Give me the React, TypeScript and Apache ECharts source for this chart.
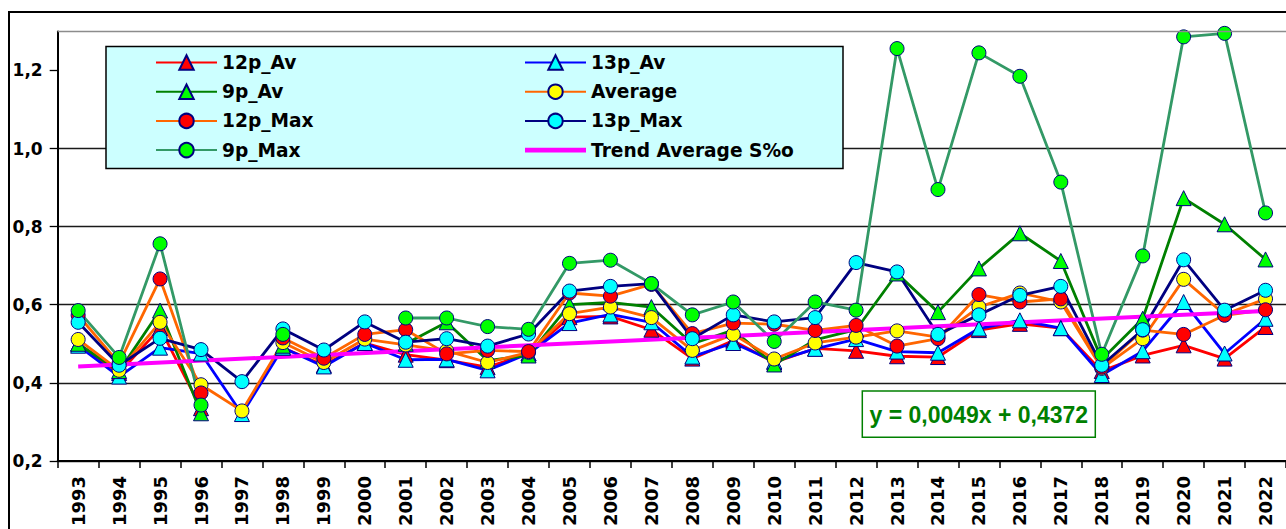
import React, { useEffect, useRef } from "react";
import * as echarts from "echarts";

const years = [
  "1993","1994","1995","1996","1997","1998","1999","2000","2001","2002",
  "2003","2004","2005","2006","2007","2008","2009","2010","2011","2012",
  "2013","2014","2015","2016","2017","2018","2019","2020","2021","2022",
];

const p12Av = [0.5, 0.425, 0.54, 0.335, null, 0.49, 0.445, 0.502, 0.472, 0.458, 0.44, 0.475, 0.568, 0.57, 0.536, 0.462, 0.508, 0.452, 0.488, 0.482, 0.468, 0.466, 0.535, 0.551, 0.54, 0.43, 0.47, 0.496, 0.462, 0.543];
const p13Av = [0.495, 0.416, 0.49, 0.475, 0.32, 0.49, 0.442, 0.502, 0.459, 0.46, 0.432, 0.475, 0.553, 0.575, 0.555, 0.467, 0.502, 0.455, 0.487, 0.512, 0.48, 0.477, 0.539, 0.56, 0.54, 0.42, 0.481, 0.607, 0.475, 0.564];
const p9Av = [0.5, 0.43, 0.585, 0.322, null, 0.495, null, null, 0.5, 0.555, 0.457, 0.47, 0.6, 0.606, 0.594, 0.5, 0.535, 0.447, 0.51, 0.536, 0.68, 0.581, 0.693, 0.783, 0.712, 0.46, 0.564, 0.873, 0.806, 0.716];
const average = [0.511, 0.432, 0.555, 0.395, 0.328, 0.503, 0.452, 0.512, 0.497, 0.482, 0.452, 0.478, 0.577, 0.594, 0.567, 0.483, 0.524, 0.461, 0.502, 0.517, 0.533, 0.517, 0.594, 0.63, 0.607, 0.437, 0.513, 0.665, 0.575, 0.615];
const p12Max = [0.573, 0.45, 0.666, 0.374, null, 0.515, 0.463, 0.524, 0.536, 0.474, 0.483, 0.48, 0.63, 0.622, 0.652, 0.526, 0.553, 0.55, 0.534, 0.547, 0.494, 0.513, 0.626, 0.607, 0.615, 0.44, 0.535, 0.524, 0.573, 0.587];
const p13Max = [0.555, 0.445, 0.514, 0.485, 0.403, 0.538, 0.484, 0.556, 0.504, 0.513, 0.494, 0.525, 0.635, 0.647, 0.654, 0.513, 0.574, 0.556, 0.567, 0.708, 0.684, 0.524, 0.574, 0.624, 0.647, 0.445, 0.536, 0.715, 0.586, 0.637];
const p9Max = [0.585, 0.465, 0.756, 0.343, null, 0.524, null, null, 0.566, 0.566, 0.544, 0.537, 0.706, 0.714, 0.654, 0.574, 0.607, 0.506, 0.607, 0.586, 1.256, 0.895, 1.245, 1.185, 0.914, 0.473, 0.725, 1.286, 1.295, 0.835];
const trendEnds = [0.442, 0.584];
const yTicks = [0.2, 0.4, 0.6, 0.8, 1.0, 1.2];
const equationText = "y = 0,0049x + 0,4372";

const NAVY = "#000080";

function lineSeries(name: string, data: (number | null)[], lineColor: string, fill: string, symbol: string, size: number) {
  return {
    name,
    type: "line",
    data,
    symbol,
    symbolSize: size,
    showSymbol: true,
    connectNulls: false,
    lineStyle: { color: lineColor, width: 2.8 },
    itemStyle: { color: fill, borderColor: NAVY, borderWidth: 1 },
    emphasis: { disabled: true },
  };
}

export default function App() {
  const ref = useRef<HTMLDivElement>(null);
  useEffect(() => {
    if (!ref.current) return;
    const chart = echarts.init(ref.current, null, { renderer: "svg" });
    const legendText = { fontFamily: "'DejaVu Sans', sans-serif", fontWeight: "bold", fontSize: 18.6, color: "#000", lineHeight: 19 };
    const option: any = {
      animation: false,
      backgroundColor: "#ffffff",
      grid: { left: 57.7, top: 31.4, width: 1232.1, height: 432.9, containLabel: false },
      xAxis: {
        type: "category",
        data: years,
        boundaryGap: true,
        axisLine: { show: true, lineStyle: { color: "#000", width: 2 } },
        axisTick: { show: true, length: 7, lineStyle: { color: "#000", width: 1.5 } },
        axisLabel: {
          interval: 0, rotate: 90, margin: 15, color: "#000",
          fontFamily: "'DejaVu Sans', sans-serif", fontWeight: "bold", fontSize: 18,
        },
        splitLine: { show: false },
      },
      yAxis: {
        type: "value",
        min: 0.2,
        max: 1.3,
        interval: 0.2,
        axisLine: { show: true, lineStyle: { color: "#000", width: 2 } },
        axisTick: { show: true, length: 8, customValues: yTicks, lineStyle: { color: "#000", width: 1.3 } },
        axisLabel: {
          customValues: yTicks,
          margin: 15, color: "#000",
          fontFamily: "'DejaVu Sans', sans-serif", fontWeight: "bold", fontSize: 17,
          formatter: (v: number) => {
            if (Math.abs(v * 5 - Math.round(v * 5)) > 1e-6) return "";
            return v.toFixed(1).replace(".", ",");
          },
        },
        splitLine: { show: true, showMaxLine: false, lineStyle: { color: "#1a1a1a", width: 1.3 } },
      },
      legend: [
        {
          orient: "vertical", left: 150, top: 48, itemWidth: 61, itemHeight: 18, itemGap: 10.2,
          textStyle: legendText, selectedMode: false,
          data: ["12p_Av", "9p_Av", "12p_Max", "9p_Max"],
        },
        {
          orient: "vertical", left: 519, top: 48, itemWidth: 61, itemHeight: 18, itemGap: 10.2,
          textStyle: legendText, selectedMode: false,
          data: ["13p_Av", "Average", "13p_Max", { name: "Trend Average S%o", icon: "path://M0,0 L60,0 L60,4.5 L0,4.5 Z" }],
        },
      ],
      graphic: [
        { type: "rect", z: 0, silent: true, shape: { x: 9, y: 12, width: 1400, height: 700 }, style: { fill: "none", stroke: "#000", lineWidth: 2 } },
        { type: "line", z: 5, silent: true, shape: { x1: 57.7, y1: 31.4, x2: 1300, y2: 31.4 }, style: { stroke: "#8c8c8c", lineWidth: 1.5 } },
        { type: "rect", z: 3, silent: true, shape: { x: 106, y: 46.5, width: 737, height: 122 }, style: { fill: "#CCFFFF", stroke: "#000", lineWidth: 1.5 } },
        { type: "rect", z: 10, silent: true, shape: { x: 862.3, y: 391, width: 233, height: 46.3 }, style: { fill: "#ffffff", stroke: "#008000", lineWidth: 1.5 } },
        {
          type: "text", z: 11, silent: true, x: 978.8, y: 414.5,
          style: { text: equationText, font: "bold 23px 'Liberation Sans', Arial, sans-serif", fill: "#008000", align: "center", verticalAlign: "middle" },
        },
      ],
      series: [
        lineSeries("12p_Av", p12Av, "#FF0000", "#FF0000", "triangle", 15),
        lineSeries("13p_Av", p13Av, "#0000FF", "#00FFFF", "triangle", 15),
        lineSeries("9p_Av", p9Av, "#008000", "#00FF00", "triangle", 15),
        lineSeries("Average", average, "#FF6600", "#FFFF00", "circle", 14),
        lineSeries("12p_Max", p12Max, "#FF6600", "#FF0000", "circle", 14),
        lineSeries("13p_Max", p13Max, NAVY, "#00FFFF", "circle", 14),
        lineSeries("9p_Max", p9Max, "#339966", "#00FF00", "circle", 14),
        {
          name: "Trend Average S%o",
          type: "line",
          data: [[years[0], trendEnds[0]], [years[years.length - 1], trendEnds[1]]],
          symbol: "none",
          lineStyle: { color: "#FF00FF", width: 4 },
          itemStyle: { color: "#FF00FF" },
          emphasis: { disabled: true },
          z: 3,
        },
      ],
    };
    chart.setOption(option);
    return () => chart.dispose();
  }, []);
  return (
    <div
      ref={ref}
      style={{ position: "fixed", left: 0, top: 0, width: 1286, height: 529, background: "#fff" }}
    />
  );
}
